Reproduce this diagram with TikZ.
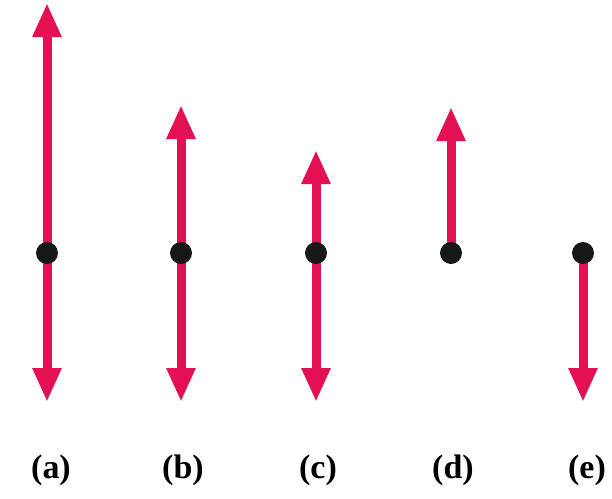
\documentclass[tikz,border=0pt]{standalone}
\usepackage{fontspec}
\setmainfont{Liberation Serif}
\usetikzlibrary{arrows.meta}
\definecolor{vettore}{RGB}{228,16,84}
\definecolor{punto}{RGB}{22,24,24}
\begin{document}
\begin{tikzpicture}[x=0.5pt, y=-0.5pt, line cap=butt,
  freccia/.style={draw=vettore, line width=4.5pt,
    -{Triangle[length=17pt,width=13.5pt]}},
  puntino/.style={circle, fill=punto, inner sep=0pt, minimum size=11pt},
  etichetta/.style={font=\bfseries\fontsize{17}{20}\selectfont}]

\useasboundingbox (0,0) rectangle (612,499);

% punti di applicazione
\coordinate (Oa) at (47,253);
\coordinate (Ob) at (181,253);
\coordinate (Oc) at (316,253);
\coordinate (Od) at (451,253);
\coordinate (Oe) at (583,253);

% punte delle frecce
\coordinate (Ua) at (47,3);
\coordinate (Da) at (47,402);
\coordinate (Ub) at (181,105);
\coordinate (Db) at (181,402);
\coordinate (Uc) at (316,150);
\coordinate (Dc) at (316,402);
\coordinate (Ud) at (451,107);
\coordinate (De) at (583,402);

% frecce
\draw[freccia] (Oa) -- (Ua);
\draw[freccia] (Oa) -- (Da);
\draw[freccia] (Ob) -- (Ub);
\draw[freccia] (Ob) -- (Db);
\draw[freccia] (Oc) -- (Uc);
\draw[freccia] (Oc) -- (Dc);
\draw[freccia] (Od) -- (Ud);
\draw[freccia] (Oe) -- (De);

% puntini
\foreach \c in {a,b,c,d,e}
  \node[puntino] (P\c) at (O\c) {};

% etichette
\node[etichetta] (La) at (51,470) {(a)};
\node[etichetta] (Lb) at (183,470) {(b)};
\node[etichetta] (Lc) at (318,470) {(c)};
\node[etichetta] (Ld) at (453,470) {(d)};
\node[etichetta] (Le) at (587,470) {(e)};

\end{tikzpicture}
\end{document}
